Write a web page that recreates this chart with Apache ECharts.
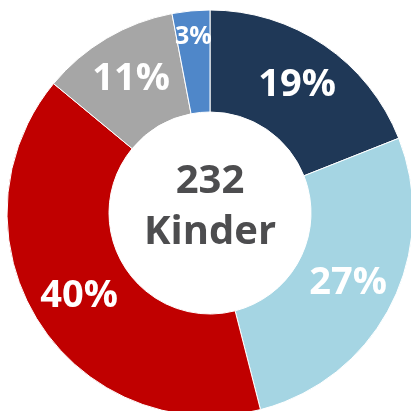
<!DOCTYPE html>
<html>
<head>
<meta charset="utf-8">
<script src="https://cdn.jsdelivr.net/npm/echarts@6/dist/echarts.min.js"></script>
<style>
  html, body { margin: 0; padding: 0; background: #fff; }
  #chart { width: 411px; height: 411px; }
</style>
</head>
<body>
<div id="chart"></div>
<script>
// slices clockwise from 12 o'clock
const names = ['A', 'B', 'C', 'D', 'E']
const values = [19, 27, 40, 11, 3]
const colors = ['#1f3857', '#a5d5e3', '#c00000', '#a6a6a6', '#4f87c9']
const centerText = ['232', 'Kinder']

const chart = echarts.init(document.getElementById('chart'))

// small slices get their label drawn separately (the inside label gets clipped)
const data = values.map((v, i) => {
  const item = { name: names[i], value: v, itemStyle: { color: colors[i] } }
  if (v < 5) item.label = { show: false }
  return item
})

chart.setOption({
  animation: false,
  series: [{
    type: 'pie',
    center: [210, 213],
    radius: [101, 203],
    startAngle: 90,
    clockwise: true,
    silent: true,
    itemStyle: { borderColor: '#fff', borderWidth: 1 },
    label: {
      show: true,
      position: 'inside',
      formatter: p => p.value + '%',
      color: '#fff',
      fontFamily: 'Open Sans',
      fontWeight: 'bold',
      fontSize: 38
    },
    labelLine: { show: false },
    data
  }]
})

// place small-slice labels near the outer edge, from the pie's own layout
const seriesData = chart.getModel().getSeriesByIndex(0).getData()
const graphics = [{
  type: 'text',
  x: 210,
  y: 207,
  style: {
    text: centerText.join('\n'),
    textAlign: 'center',
    textVerticalAlign: 'middle',
    fill: '#4d4d4f',
    font: 'bold 40px "Open Sans"',
    lineHeight: 51
  }
}]
values.forEach((v, i) => {
  if (v >= 5) return
  const l = seriesData.getItemLayout(i)
  const mid = (l.startAngle + l.endAngle) / 2
  const rr = l.r0 + (l.r - l.r0) * 0.74
  graphics.push({
    type: 'text',
    x: l.cx + rr * Math.cos(mid),
    y: l.cy + rr * Math.sin(mid),
    z: 10,
    style: {
      text: v + '%',
      textAlign: 'center',
      textVerticalAlign: 'middle',
      fill: '#fff',
      font: 'bold 25px "Open Sans"'
    }
  })
})
chart.setOption({ graphic: graphics })
</script>
</body>
</html>
